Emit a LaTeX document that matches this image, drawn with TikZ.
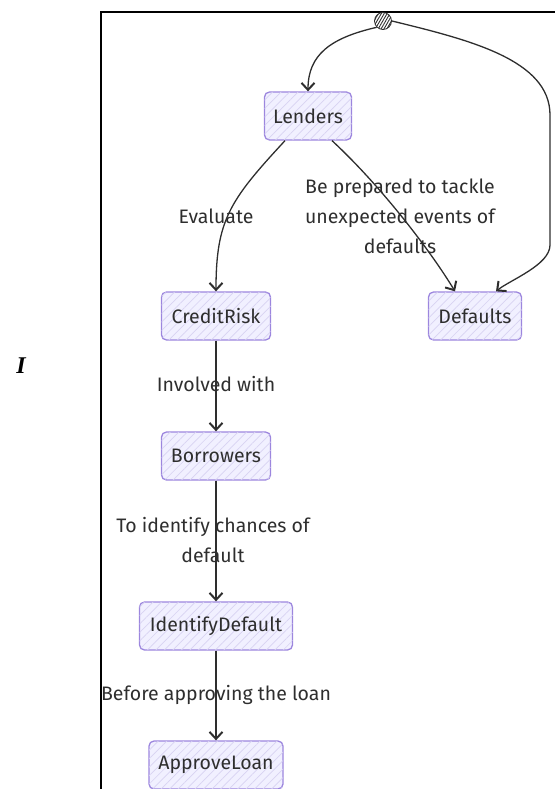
\documentclass[tikz,border=0pt]{standalone}
\usepackage{fontspec}
\setmainfont{Fira Sans}
\newfontfamily\glyphfont{Liberation Serif}
\usetikzlibrary{arrows.meta,patterns.meta}
\definecolor{boxfill}{HTML}{F1F0FF}
\definecolor{boxhatch}{HTML}{D8D3F2}
\definecolor{boxline}{HTML}{9C86DE}
\definecolor{ink}{HTML}{2E2E2E}
\tikzset{
  x=1pt, y=-1pt,
  state/.style={draw=boxline, line width=1.3pt, rounded corners=5pt,
    fill=boxfill, minimum height=48pt, text=ink, inner sep=0pt,
    font=\fontsize{19.5}{22}\selectfont,
    postaction={pattern={Lines[angle=45,distance=6pt,line width=0.7pt]},
      pattern color=boxhatch}},
  flow/.style={draw=ink, line width=1.3pt,
    -{Straight Barb[length=7pt,width=13pt,line width=2pt]}},
  elabel/.style={text=ink, font=\fontsize{19.5}{30}\selectfont, align=center,
    inner sep=0pt},
}
\begin{document}
\begin{tikzpicture}
\useasboundingbox (0,0) rectangle (555,789);
% frame
\draw[line width=2pt] (101,789) -- (101,12) -- (555,12);
\node[text=black, font=\glyphfont\bfseries\itshape\fontsize{24}{24}\selectfont] (glyph) at (21,366) {I};

% states
\node[state, minimum width=87pt] (lenders) at (308,116) {Lenders};
\node[state, minimum width=109pt] (credit) at (216,316) {CreditRisk};
\node[state, minimum width=93pt] (defaults) at (475,316) {Defaults};
\node[state, minimum width=109pt] (borrowers) at (216,456) {Borrowers};
\node[state, minimum width=153pt] (identify) at (216,626) {IdentifyDefault};
\node[state, minimum width=134pt] (approve) at (216,765) {ApproveLoan};

% initial state
\node[circle, draw=ink, line width=0.8pt, minimum size=17pt, inner sep=0pt,
  fill=gray!60, pattern={Lines[angle=60,distance=2.5pt,line width=0.9pt]},
  pattern color=ink] (start) at (383,21) {};

% transitions
\draw[flow] (start.south west) .. controls (330,38) and (308,55) .. (lenders.north);
\draw[flow] (start.east) .. controls (470,40) and (550,60) .. (550,115)
  -- (550,245) .. controls (550,265) and (510,280) .. ([xshift=21pt]defaults.north);
\draw[flow] ([xshift=-23pt]lenders.south) .. controls (230,200) and (216,220) .. (credit.north);
\draw[flow] ([xshift=24pt]lenders.south) .. controls (380,185) and (430,250) .. ([xshift=-20pt]defaults.north);
\draw[flow] (credit) -- (borrowers);
\draw[flow] (borrowers) -- (identify);
\draw[flow] (identify) -- (approve);

% transition labels
\node[elabel] (lEval) at (216,216) {Evaluate};
\node[elabel] (lPrep) at (400,216) {Be prepared to tackle\\unexpected events of\\defaults};
\node[elabel] (lInv) at (216,384) {Involved with};
\node[elabel] (lIdent) at (213,540) {To identify chances of\\default};
\node[elabel] (lBefore) at (216,695) {Before approving the loan};
\end{tikzpicture}
\end{document}
